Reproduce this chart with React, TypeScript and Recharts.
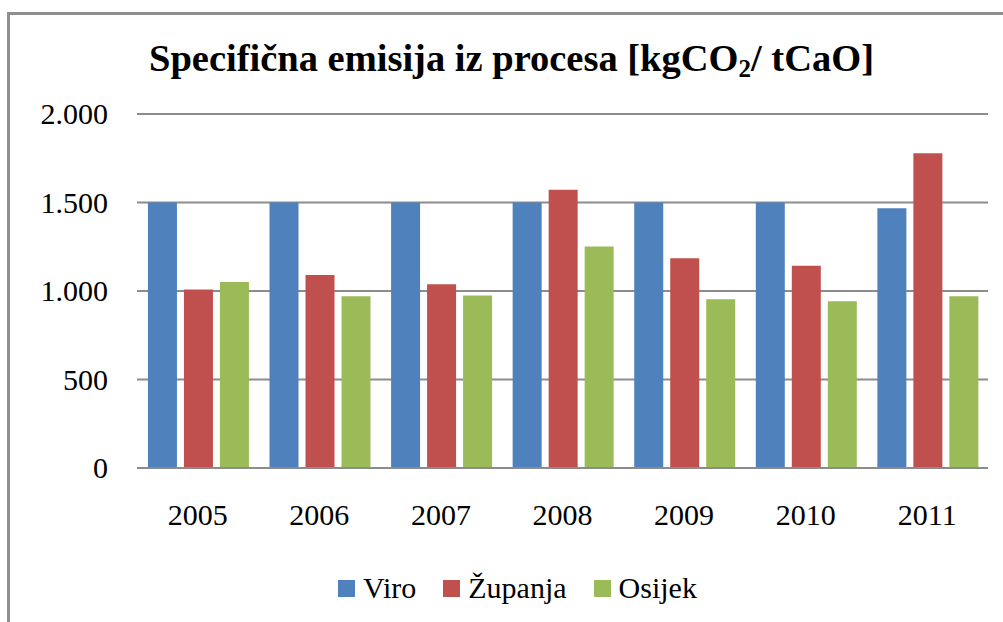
import React from "react";
import { BarChart, Bar, XAxis, YAxis, CartesianGrid } from "recharts";

const years = ["2005", "2006", "2007", "2008", "2009", "2010", "2011"];
const viro = [1500, 1500, 1500, 1500, 1500, 1500, 1468];
const zupanja = [1008, 1090, 1038, 1572, 1185, 1143, 1778];
const osijek = [1051, 971, 975, 1252, 953, 942, 971];
const yTicks = [0, 500, 1000, 1500, 2000];

const seriesNames = ["Viro", "Županja", "Osijek"];
const seriesKeys = ["viro", "zupanja", "osijek"];
const seriesColors = ["#4F81BD", "#C0504D", "#9BBB59"];

const data = years.map((y, i) => ({
  year: y,
  viro: viro[i],
  zupanja: zupanja[i],
  osijek: osijek[i],
}));

const fmt = (v: number) => String(v).replace(/\B(?=(\d{3})+(?!\d))/g, ".");

const FONT = "'Liberation Serif', 'Times New Roman', serif";

const XTick = (props: any) => {
  const { x, y, payload } = props;
  return (
    <text x={x} y={y + 57} textAnchor="middle" style={{ fontFamily: FONT, fontSize: 30, fill: "#000" }}>
      {payload.value}
    </text>
  );
};

const YTick = (props: any) => {
  const { x, y, payload } = props;
  return (
    <text x={108} y={y + 10} textAnchor="end" style={{ fontFamily: FONT, fontSize: 30, fill: "#000" }}>
      {fmt(payload.value)}
    </text>
  );
};

export default function App() {
  return (
    <div
      style={{
        position: "absolute",
        left: 0,
        top: 0,
        width: 1003,
        height: 622,
        background: "#fff",
        overflow: "hidden",
        fontFamily: FONT,
      }}
    >
      <div
        style={{
          position: "absolute",
          left: 7,
          top: 12,
          width: 1003,
          height: 640,
          borderTop: "3px solid #8e8e8e",
          borderLeft: "3px solid #8e8e8e",
        }}
      />
      <div
        style={{
          position: "absolute",
          left: 0,
          width: 1023,
          top: 36,
          textAlign: "center",
          fontWeight: "bold",
          fontSize: 38.5,
          lineHeight: "44px",
          color: "#000",
          whiteSpace: "nowrap",
          fontFamily: FONT,
        }}
      >
        Specifična emisija iz procesa [kgCO
        <sub style={{ fontSize: 25, verticalAlign: "-6px", lineHeight: 0 }}>2</sub>/ tCaO]
      </div>
      <div style={{ position: "absolute", left: 0, top: 0 }}>
        <BarChart
          width={1003}
          height={622}
          data={data}
          margin={{ top: 114, right: 15, left: 0, bottom: 94 }}
          barCategoryGap="9%"
          barGap={7}
          style={{ fontFamily: FONT }}
        >
          <CartesianGrid vertical={false} stroke="#8c8c8c" strokeWidth={2} />
          <XAxis
            dataKey="year"
            height={60}
            axisLine={{ stroke: "#8c8c8c", strokeWidth: 2 }}
            tickLine={false}
            tickSize={0}
            tickMargin={0}
            tick={<XTick />}
            interval={0}
          />
          <YAxis
            type="number"
            domain={[0, 2000]}
            ticks={yTicks}
            width={137}
            axisLine={false}
            tickLine={false}
            tickSize={0}
            tickMargin={0}
            tick={<YTick />}
            interval={0}
          />
          {seriesKeys.map((k, i) => (
            <Bar
              key={k}
              dataKey={k}
              name={seriesNames[i]}
              fill={seriesColors[i]}
              isAnimationActive={false}
            />
          ))}
        </BarChart>
      </div>
      <div
        style={{
          position: "absolute",
          left: 0,
          width: 1035,
          top: 570,
          display: "flex",
          justifyContent: "center",
          alignItems: "center",
          fontSize: 30,
          lineHeight: "36px",
          color: "#000",
          fontFamily: FONT,
        }}
      >
        {seriesNames.map((n, i) => (
          <div key={n} style={{ display: "flex", alignItems: "center", marginRight: i < 2 ? 27 : 0 }}>
            <div style={{ width: 17, height: 17, background: seriesColors[i], marginRight: 8 }} />
            <span>{n}</span>
          </div>
        ))}
      </div>
    </div>
  );
}
